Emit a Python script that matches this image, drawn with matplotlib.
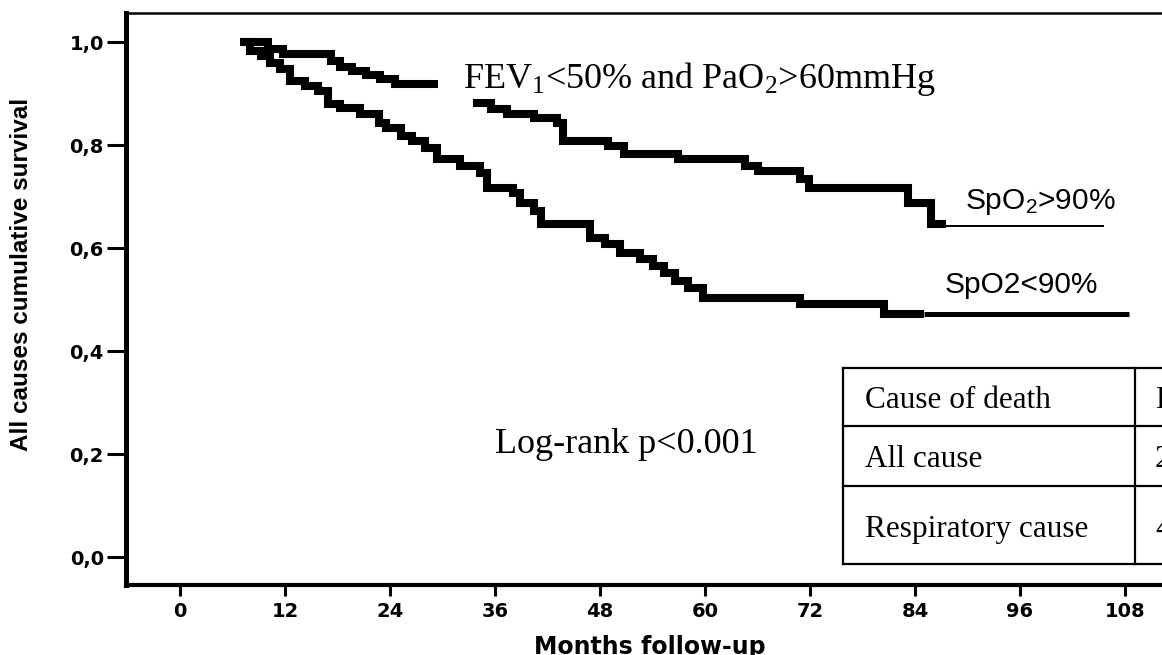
import numpy as np
import matplotlib
matplotlib.use("Agg")
import matplotlib.pyplot as plt
from matplotlib.lines import Line2D

W, H = 1162, 655

# ---------------- data ----------------
# SpO2<90% group (lower curve): step times (months) and survival after each step
low_t = [6.9, 8.0, 9.2, 10.3, 11.4, 12.6, 14.3, 15.8, 16.9, 18.3, 20.6, 22.7, 23.5,
         25.2, 26.5, 28.0, 29.4, 32.0, 34.3, 35.1, 38.1, 38.9, 40.4, 41.2, 46.9,
         48.6, 50.3, 52.6, 54.0, 55.3, 56.6, 58.1, 59.8, 70.9, 80.4, 85.0]
low_s = [1.0, 0.983, 0.973, 0.959, 0.948, 0.924, 0.915, 0.905, 0.880, 0.872, 0.860,
         0.843, 0.833, 0.817, 0.808, 0.794, 0.773, 0.759, 0.746, 0.717, 0.707, 0.687,
         0.672, 0.647, 0.619, 0.608, 0.590, 0.579, 0.565, 0.551, 0.536, 0.522, 0.503,
         0.491, 0.472, 0.472]
low_tail_end = 108.5

# SpO2>90% group (upper curve); NaN marks the break in the printed curve
up_t = [6.9, 10.0, 11.8, 17.2, 18.3, 19.7, 21.2, 22.9, 24.6, 29.5, 33.5, 35.5, 37.4,
        40.4, 43.1, 43.8, 48.9, 50.7, 56.9, 64.6, 66.0, 70.9, 71.9, 83.2, 85.8, 87.5]
up_s = [1.0, 0.986, 0.977, 0.963, 0.951, 0.944, 0.936, 0.928, 0.918, np.nan, 0.882,
        0.870, 0.860, 0.852, 0.843, 0.808, 0.798, 0.783, 0.773, 0.759, 0.750, 0.734,
        0.717, 0.687, 0.647, 0.647]
up_tail_level = 0.643
up_tail_end = 105.6

x_ticks = list(range(0, 109, 12))
x_tick_labels = [str(v) for v in x_ticks]
y_ticks = [0.0, 0.2, 0.4, 0.6, 0.8, 1.0]
y_tick_labels = ["0,0", "0,2", "0,4", "0,6", "0,8", "1,0"]

table_col1 = ["Cause of death", "All cause", "Respiratory cause"]
table_col2 = ["RR", "2.3", "4.1"]

# ---------------- style ----------------
plt.rcParams['mathtext.fontset'] = 'custom'
plt.rcParams['mathtext.rm'] = 'Liberation Serif'
plt.rcParams['mathtext.it'] = 'Liberation Serif:italic'
plt.rcParams['mathtext.sf'] = 'Liberation Sans'

fig = plt.figure(figsize=(W / 100, H / 100), dpi=100)

def fx(px):
    return px / W

def fy(py):
    return 1 - py / H

ax_l, ax_r, ax_t, ax_b = 126, 1180, 13, 585
ax = fig.add_axes([fx(ax_l), fy(ax_b), fx(ax_r) - fx(ax_l), fy(ax_t) - fy(ax_b)])

xs = 8.75   # px per month
x0 = 180
ys = 515    # px per unit
y0 = 557
ax.set_xlim((ax_l - x0) / xs, (ax_r - x0) / xs)
ax.set_ylim((y0 - ax_b) / ys, (y0 - ax_t) / ys)

# curves
ax.step(low_t, low_s, where='post', color='black', lw=5.8,
        solid_capstyle='butt', solid_joinstyle='miter')
ax.plot([low_t[-1], low_tail_end], [low_s[-1], low_s[-1]], color='black', lw=3.6,
        solid_capstyle='butt')
ax.step(up_t, up_s, where='post', color='black', lw=5.8,
        solid_capstyle='butt', solid_joinstyle='miter')
ax.plot([up_t[-1], up_tail_end], [up_tail_level, up_tail_level], color='black', lw=1.4,
        solid_capstyle='butt')

# spines
ax.spines['right'].set_visible(False)
ax.spines['left'].set_linewidth(3.6)
ax.spines['bottom'].set_linewidth(3.0)
ax.spines['top'].set_linewidth(1.8)
for s in ax.spines.values():
    s.set_capstyle('projecting')

ax.set_xticks(x_ticks)
ax.set_xticklabels(x_tick_labels)
ax.set_yticks(y_ticks)
ax.set_yticklabels(y_tick_labels)
ax.tick_params(axis='y', direction='out', length=14, width=2.2, pad=2,
               labelsize=14)
ax.tick_params(axis='x', direction='out', length=8, width=2.2, pad=4,
               labelsize=14)
for lab in ax.get_xticklabels() + ax.get_yticklabels():
    lab.set_fontweight('bold')
    lab.set_family('DejaVu Sans')

# axis labels
fig.text(fx(22), fy(274), "All causes cumulative survival", rotation=90,
         ha='center', va='center', fontsize=17.5, fontweight='bold',
         family=['Liberation Sans Narrow', 'Liberation Sans'])
fig.text(fx(650), fy(635), "Months follow-up", ha='center', va='top',
         fontsize=17, fontweight='bold', family='DejaVu Sans')

# annotations
fig.text(fx(463), fy(88), r"FEV$_1$<50% and PaO$_2$>60mmHg", ha='left',
         va='baseline', fontsize=26, family='Liberation Serif')
fig.text(fx(965), fy(209), r"SpO$_\mathsf{2}$>90%", ha='left', va='baseline',
         fontsize=21.5, family='Liberation Sans')
fig.text(fx(945), fy(293), "SpO2<90%", ha='left', va='baseline',
         fontsize=21.5, family='Liberation Sans')
fig.text(fx(495), fy(453), "Log-rank p<0.001", ha='left', va='baseline',
         fontsize=26, family='Liberation Serif')

# inset table (partially cut by figure edge, as in the reference)
tab_left, tab_div, tab_right = 843, 1135, 1175
row_lines = [368, 426, 486, 564]
baselines = [408, 467, 537]
for py in row_lines:
    fig.add_artist(Line2D([fx(tab_left), fx(tab_right)], [fy(py), fy(py)],
                          transform=fig.transFigure, color='black', lw=1.6))
for px in (tab_left, tab_div):
    fig.add_artist(Line2D([fx(px), fx(px)], [fy(row_lines[0]), fy(row_lines[-1])],
                          transform=fig.transFigure, color='black', lw=1.6))
for txt, b in zip(table_col1, baselines):
    fig.text(fx(865), fy(b), txt, ha='left', va='baseline', fontsize=22.5,
             family='Liberation Serif')
for txt, b in zip(table_col2, baselines):
    fig.text(fx(1155), fy(b), txt, ha='left', va='baseline', fontsize=22.5,
             family='Liberation Serif')

fig.savefig("out.png", dpi=100)
